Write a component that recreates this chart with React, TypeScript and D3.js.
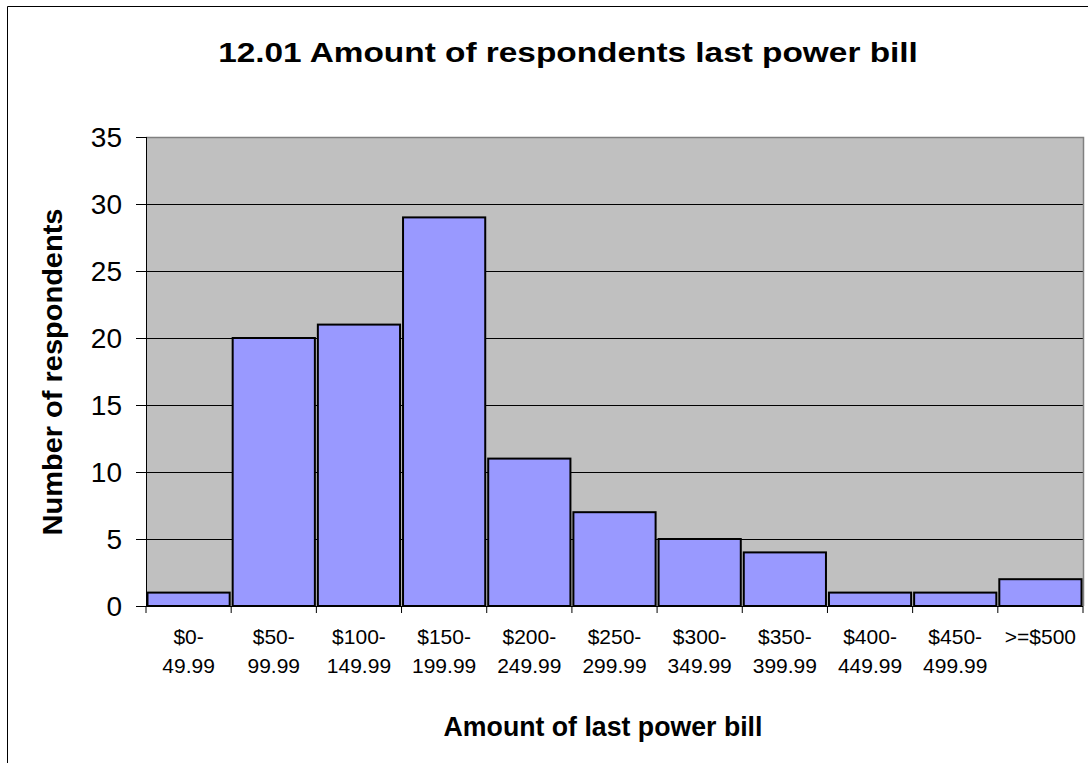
import { useEffect, useRef } from 'react';
import * as d3 from 'd3';

const categories = ['$0-|49.99', '$50-|99.99', '$100-|149.99', '$150-|199.99', '$200-|249.99', '$250-|299.99', '$300-|349.99', '$350-|399.99', '$400-|449.99', '$450-|499.99', '>=$500'];
const counts = [1, 20, 21, 29, 11, 7, 5, 4, 1, 1, 2];
const yTicks = [0, 5, 10, 15, 20, 25, 30, 35];

const App = () => {
    const svgRef = useRef<SVGSVGElement>(null);

    useEffect(() => {
        if (!svgRef.current) return;
        const svg = d3.select(svgRef.current);
        svg.selectAll('*').remove();

        const font = 'Liberation Sans, Arial, sans-serif';
        const left = 146, right = 1083, top = 137, bottom = 606;

        // Outer chart border (only left and top visible)
        svg.append('path')
            .attr('d', 'M7.5,763 L7.5,6.5 L1088,6.5')
            .attr('fill', 'none')
            .attr('stroke', '#000')
            .attr('stroke-width', 1);

        const x = d3.scaleBand()
            .domain(categories)
            .range([left, right])
            .paddingInner(0.035)
            .paddingOuter(0.0175);

        const y = d3.scaleLinear()
            .domain([0, 35])
            .range([bottom, top]);

        // Plot background
        svg.append('rect')
            .attr('x', left)
            .attr('y', top)
            .attr('width', right - left)
            .attr('height', bottom - top)
            .attr('fill', '#c0c0c0');

        // Grid lines
        svg.append('g')
            .selectAll('line')
            .data(yTicks.filter(t => t > 0 && t < 35))
            .enter().append('line')
            .attr('x1', left)
            .attr('x2', right)
            .attr('y1', d => y(d) + 0.5)
            .attr('y2', d => y(d) + 0.5)
            .attr('stroke', '#000')
            .attr('stroke-width', 1);

        // Plot border top/right grey
        svg.append('path')
            .attr('d', `M${left},${top + 0.5} L${right + 0.5},${top + 0.5} L${right + 0.5},${bottom}`)
            .attr('fill', 'none')
            .attr('stroke', '#808080')
            .attr('stroke-width', 1.5);

        // Bars
        svg.append('g')
            .selectAll('rect')
            .data(counts)
            .enter().append('rect')
            .attr('x', (_, i) => x(categories[i])!)
            .attr('y', d => y(d))
            .attr('width', x.bandwidth())
            .attr('height', d => bottom - y(d))
            .attr('fill', '#9999ff')
            .attr('stroke', '#000')
            .attr('stroke-width', 2);

        // Y axis
        svg.append('line')
            .attr('x1', left + 0.5).attr('x2', left + 0.5)
            .attr('y1', top).attr('y2', bottom)
            .attr('stroke', '#000');
        const yAxis = svg.append('g');
        yTicks.forEach(t => {
            yAxis.append('line')
                .attr('x1', left - 10).attr('x2', left)
                .attr('y1', y(t) + 0.5).attr('y2', y(t) + 0.5)
                .attr('stroke', '#000');
            yAxis.append('text')
                .attr('x', 122)
                .attr('y', y(t))
                .attr('dy', '0.36em')
                .attr('text-anchor', 'end')
                .style('font-family', font)
                .style('font-size', '28px')
                .text(t);
        });

        // X axis
        svg.append('line')
            .attr('x1', left).attr('x2', right)
            .attr('y1', bottom + 0.5).attr('y2', bottom + 0.5)
            .attr('stroke', '#000');
        const step = (right - left) / categories.length;
        d3.range(categories.length + 1).forEach(i => {
            svg.append('line')
                .attr('x1', left + i * step).attr('x2', left + i * step)
                .attr('y1', bottom).attr('y2', bottom + 7)
                .attr('stroke', '#000');
        });
        categories.forEach(c => {
            const cx = x(c)! + x.bandwidth() / 2;
            const lines = c.split('|');
            lines.forEach((l, j) => {
                svg.append('text')
                    .attr('x', cx)
                    .attr('y', 644 + j * 29)
                    .attr('text-anchor', 'middle')
                    .style('font-family', font)
                    .style('font-size', '21px')
                    .text(l);
            });
        });

        // Bold labels, stretched along the reading direction to the reference width
        const stretched = (label: string, tx: number, ty: number, rot: number, size: number, len: number) => {
            const g = svg.append('g');
            const t = g.append('text')
                .attr('text-anchor', 'middle')
                .style('font-family', font)
                .style('font-size', `${size}px`)
                .style('font-weight', 'bold')
                .text(label);
            const w = (t.node() as SVGTextElement).getComputedTextLength();
            g.attr('transform', `translate(${tx},${ty}) rotate(${rot}) scale(${len / w},1)`);
        };

        stretched('12.01 Amount of respondents last power bill', 568, 62, 0, 28, 700);
        stretched('Amount of last power bill', 603, 736, 0, 27, 319);
        stretched('Number of respondents', 62, 372, -90, 27, 327);
    }, []);

    return (
        <div style={{ position: 'absolute', left: 0, top: 0 }}>
            <svg ref={svgRef} width={1088} height={763} style={{ display: 'block', background: '#fff' }}></svg>
        </div>
    );
};

export default App;
